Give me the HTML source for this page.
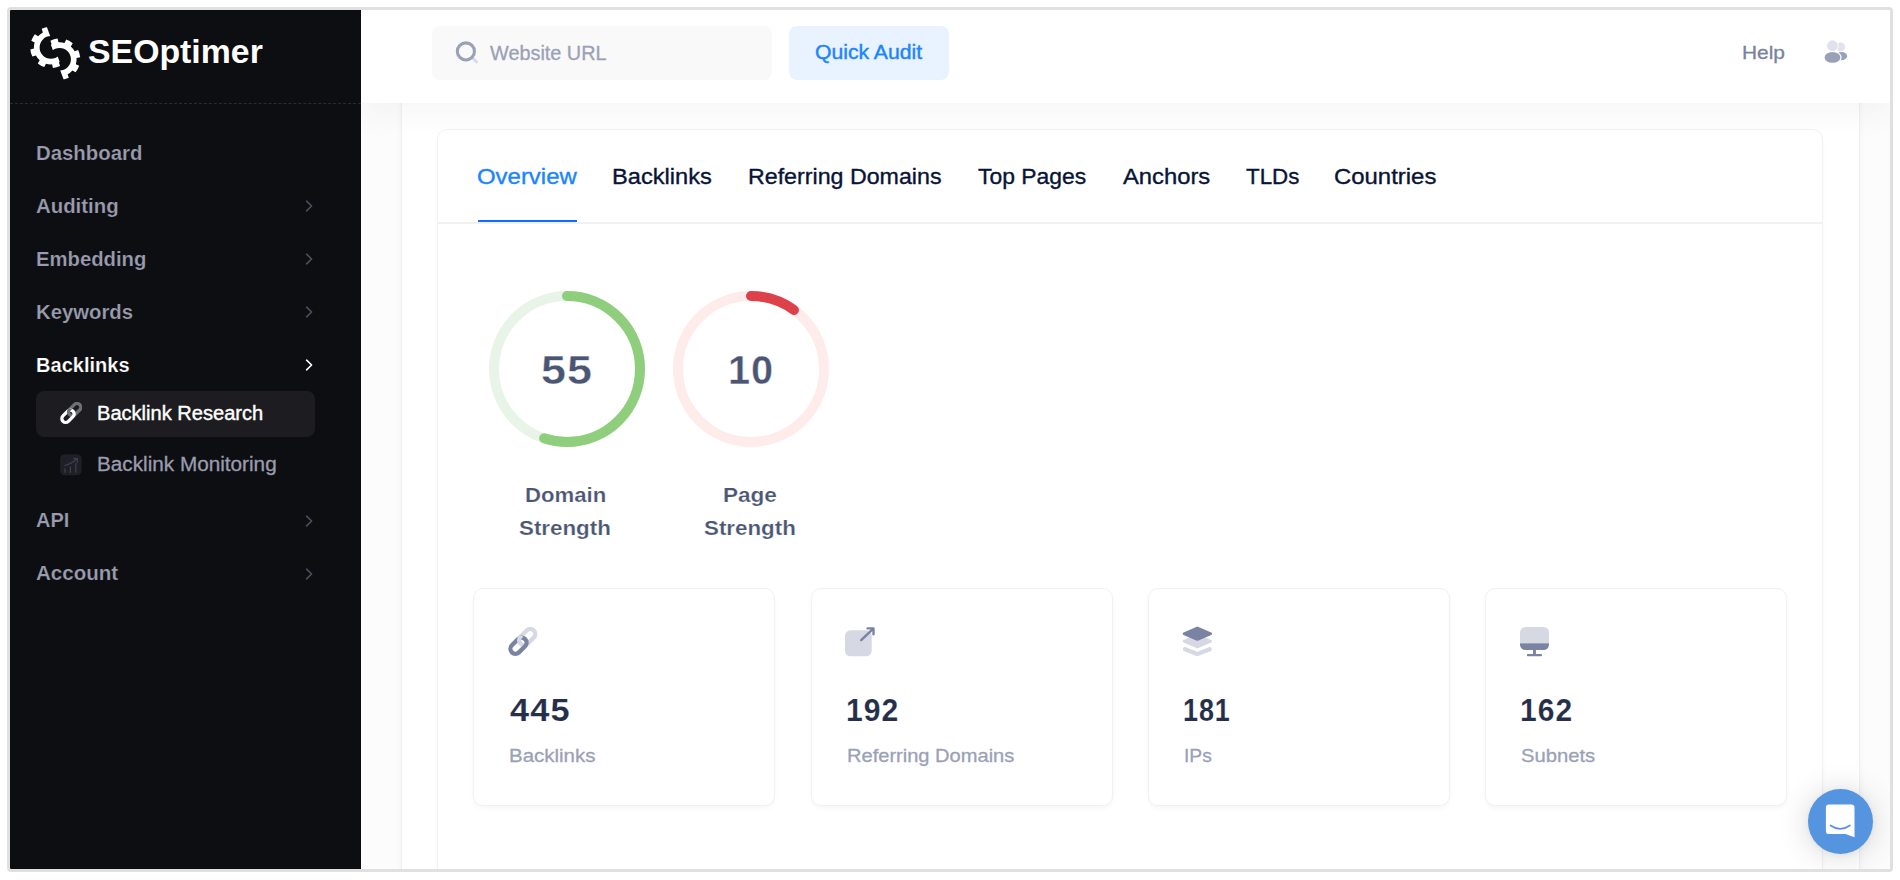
<!DOCTYPE html>
<html lang="en"><head><meta charset="utf-8"><title>SEOptimer - Backlink Research</title>
<style>
html,body{margin:0;padding:0;background:#fff;}
body{width:1900px;height:880px;overflow:hidden;position:relative;font-family:"Liberation Sans", sans-serif;}
.frame{position:absolute;left:7px;top:7px;width:1880px;height:859px;border:3px solid #e0e0e0;border-radius:4px;overflow:hidden;background:#fff;}
.page{position:absolute;left:-10px;top:-10px;width:1900px;height:880px;}
.page div,.page svg{position:absolute;}
.t{white-space:nowrap;}
</style></head><body>
<div class="frame"><div class="page">
<div style="left:361px;top:103px;width:1529px;height:767px;background:#fcfcfc;"></div>
<div style="left:401px;top:60px;width:1457px;height:830px;background:#fff;border-left:1px solid #f0f0f3;border-right:1px solid #f0f0f3;box-shadow:0 0 7px rgba(0,0,0,.035);"></div>
<div style="left:437px;top:129px;width:1384px;height:800px;background:#fff;border:1px solid #f1f1f4;border-radius:10px;box-shadow:0 3px 4px rgba(0,0,0,.03);"></div>
<div style="left:438px;top:222px;width:1384px;height:2px;background:#f1f1f4;"></div>
<div style="left:361px;top:10px;width:1529px;height:93px;background:#fff;box-shadow:0 10px 30px rgba(82,63,105,.05);"></div>
<div style="left:432px;top:26px;width:340px;height:54px;background:#f9f9f9;border-radius:8px;"></div>
<svg style="left:452px;top:38px;" width="30" height="30" viewBox="452 38 30 30"><line x1="472" y1="57.5" x2="476.5" y2="61.8" stroke="#d9dce6" stroke-width="3" stroke-linecap="round"/><circle cx="465.9" cy="51.4" r="8.55" fill="none" stroke="#99a1b7" stroke-width="3.1"/></svg>
<div class="t" style="left:489.61px;top:40px;font-size:20px;line-height:26px;color:#99a1b7;font-weight:400;transform:scaleX(0.9926);transform-origin:0 0;-webkit-text-stroke:0.3px #99a1b7;">Website URL</div>
<div style="left:789px;top:26px;width:160px;height:54px;background:#e9f3ff;border-radius:8px;"></div>
<div class="t" style="left:815.05px;top:39px;font-size:19.5px;line-height:26px;color:#1b84ff;font-weight:400;transform:scaleX(1.0858);transform-origin:0 0;-webkit-text-stroke:0.4px #1b84ff;">Quick Audit</div>
<div class="t" style="left:1742.06px;top:40px;font-size:19px;line-height:25px;color:#78829d;font-weight:400;transform:scaleX(1.0972);transform-origin:0 0;-webkit-text-stroke:0.3px #78829d;">Help</div>
<svg style="left:1820px;top:36px;" width="34" height="32" viewBox="1820 36 34 32"><circle cx="1840.7" cy="46.9" r="4.3" fill="#e0e3eb"/><ellipse cx="1841.4" cy="56.2" rx="5.7" ry="4.1" fill="#99a1b7"/><ellipse cx="1832.5" cy="57.4" rx="9.1" ry="6.5" fill="#fff"/><circle cx="1832.5" cy="45.7" r="6.2" fill="#fff"/><circle cx="1832.5" cy="45.7" r="5.4" fill="#dfe2ea"/><ellipse cx="1832.5" cy="57.4" rx="7.9" ry="5.4" fill="#99a1b7"/></svg>
<div style="left:10px;top:10px;width:351px;height:860px;background:#0d0e12;"></div>
<div style="left:10px;top:103px;width:351px;height:0;border-top:1px dashed #282b35;"></div>
<svg style="left:20px;top:15px;" width="80" height="75" viewBox="20 15 80 75"><defs><clipPath id="cl1"><polygon points="22.0,-40.84 88.34,140.06 -100,140 -100,-41"/></clipPath><clipPath id="cl2"><polygon points="22.14,-33.54 88.48,147.36 200,147 200,-34"/></clipPath></defs><g clip-path="url(#cl1)"><path fill="#fff" fill-rule="evenodd" d="M58.92 62.39 L60.09 65.95 A20.70 20.70 0 0 1 52.94 68.00 L52.04 64.36 A17.00 17.00 0 0 1 45.97 63.67 L44.28 67.01 A20.70 20.70 0 0 1 37.78 63.41 L39.71 60.20 A17.00 17.00 0 0 1 35.91 55.42 L32.35 56.59 A20.70 20.70 0 0 1 30.30 49.44 L33.94 48.54 A17.00 17.00 0 0 1 34.63 42.47 L31.29 40.78 A20.70 20.70 0 0 1 34.89 34.28 L38.10 36.21 A17.00 17.00 0 0 1 42.88 32.41 L41.71 28.85 A20.70 20.70 0 0 1 48.86 26.80 L49.76 30.44 A17.00 17.00 0 0 1 55.83 31.13 L57.52 27.79 A20.70 20.70 0 0 1 64.02 31.39 L62.09 34.60 A17.00 17.00 0 0 1 65.89 39.38 L69.45 38.21 A20.70 20.70 0 0 1 71.50 45.36 L67.86 46.26 A17.00 17.00 0 0 1 67.17 52.33 L70.51 54.02 A20.70 20.70 0 0 1 66.91 60.52 L63.70 58.59 A17.00 17.00 0 0 1 58.92 62.39 Z M62.20 47.40 A11.30 11.30 0 1 0 39.60 47.40 A11.30 11.30 0 1 0 62.20 47.40 Z"/></g><g clip-path="url(#cl2)"><path fill="#fff" fill-rule="evenodd" d="M67.62 74.19 L68.79 77.75 A20.70 20.70 0 0 1 61.64 79.80 L60.74 76.16 A17.00 17.00 0 0 1 54.67 75.47 L52.98 78.81 A20.70 20.70 0 0 1 46.48 75.21 L48.41 72.00 A17.00 17.00 0 0 1 44.61 67.22 L41.05 68.39 A20.70 20.70 0 0 1 39.00 61.24 L42.64 60.34 A17.00 17.00 0 0 1 43.33 54.27 L39.99 52.58 A20.70 20.70 0 0 1 43.59 46.08 L46.80 48.01 A17.00 17.00 0 0 1 51.58 44.21 L50.41 40.65 A20.70 20.70 0 0 1 57.56 38.60 L58.46 42.24 A17.00 17.00 0 0 1 64.53 42.93 L66.22 39.59 A20.70 20.70 0 0 1 72.72 43.19 L70.79 46.40 A17.00 17.00 0 0 1 74.59 51.18 L78.15 50.01 A20.70 20.70 0 0 1 80.20 57.16 L76.56 58.06 A17.00 17.00 0 0 1 75.87 64.13 L79.21 65.82 A20.70 20.70 0 0 1 75.61 72.32 L72.40 70.39 A17.00 17.00 0 0 1 67.62 74.19 Z M70.90 59.20 A11.30 11.30 0 1 0 48.30 59.20 A11.30 11.30 0 1 0 70.90 59.20 Z"/></g></svg>
<div class="t" style="left:88.38px;top:31px;font-size:33.7px;line-height:41px;color:#fff;font-weight:700;transform:scaleX(1.0042);transform-origin:0 0;">SEOptimer</div>
<div class="t" style="left:36.18px;top:140px;font-size:20px;line-height:26px;color:#9a9cae;font-weight:700;transform:scaleX(1.0178);transform-origin:0 0;-webkit-text-stroke:0.2px #0d0e12;">Dashboard</div>
<div class="t" style="left:36.18px;top:193px;font-size:20px;line-height:26px;color:#9a9cae;font-weight:700;transform:scaleX(1.0190);transform-origin:0 0;-webkit-text-stroke:0.2px #0d0e12;">Auditing</div>
<svg style="left:301.1px;top:198.3px;" width="16" height="16" viewBox="0 0 16 16"><path d="M5.6 3.2 L10.6 8 L5.6 12.8" fill="none" stroke="#4e5060" stroke-width="1.6" stroke-linecap="round" stroke-linejoin="round"/></svg>
<div class="t" style="left:36.19px;top:246px;font-size:20px;line-height:26px;color:#9a9cae;font-weight:700;transform:scaleX(1.0132);transform-origin:0 0;-webkit-text-stroke:0.2px #0d0e12;">Embedding</div>
<svg style="left:301.1px;top:251.2px;" width="16" height="16" viewBox="0 0 16 16"><path d="M5.6 3.2 L10.6 8 L5.6 12.8" fill="none" stroke="#4e5060" stroke-width="1.6" stroke-linecap="round" stroke-linejoin="round"/></svg>
<div class="t" style="left:36.19px;top:299px;font-size:20px;line-height:26px;color:#9a9cae;font-weight:700;transform:scaleX(1.0150);transform-origin:0 0;-webkit-text-stroke:0.2px #0d0e12;">Keywords</div>
<svg style="left:301.1px;top:304.0px;" width="16" height="16" viewBox="0 0 16 16"><path d="M5.6 3.2 L10.6 8 L5.6 12.8" fill="none" stroke="#4e5060" stroke-width="1.6" stroke-linecap="round" stroke-linejoin="round"/></svg>
<div class="t" style="left:36.20px;top:352px;font-size:20px;line-height:26px;color:#fff;font-weight:700;transform:scaleX(1.0023);transform-origin:0 0;-webkit-text-stroke:0.2px #0d0e12;">Backlinks</div>
<svg style="left:301.1px;top:356.90000000000003px;" width="16" height="16" viewBox="0 0 16 16"><path d="M5.6 3.2 L10.6 8 L5.6 12.8" fill="none" stroke="#fff" stroke-width="1.6" stroke-linecap="round" stroke-linejoin="round"/></svg>
<div class="t" style="left:36.20px;top:507px;font-size:20px;line-height:26px;color:#9a9cae;font-weight:700;transform:scaleX(0.9986);transform-origin:0 0;-webkit-text-stroke:0.2px #0d0e12;">API</div>
<svg style="left:301.1px;top:512.6999999999999px;" width="16" height="16" viewBox="0 0 16 16"><path d="M5.6 3.2 L10.6 8 L5.6 12.8" fill="none" stroke="#4e5060" stroke-width="1.6" stroke-linecap="round" stroke-linejoin="round"/></svg>
<div class="t" style="left:36.18px;top:560px;font-size:20px;line-height:26px;color:#9a9cae;font-weight:700;transform:scaleX(1.0269);transform-origin:0 0;-webkit-text-stroke:0.2px #0d0e12;">Account</div>
<svg style="left:301.1px;top:565.5999999999999px;" width="16" height="16" viewBox="0 0 16 16"><path d="M5.6 3.2 L10.6 8 L5.6 12.8" fill="none" stroke="#4e5060" stroke-width="1.6" stroke-linecap="round" stroke-linejoin="round"/></svg>
<div style="left:36px;top:391px;width:279px;height:46px;background:#1c1c21;border-radius:8px;"></div>
<div class="t" style="left:96.70px;top:400px;font-size:20px;line-height:26px;color:#fff;font-weight:400;transform:scaleX(1.0035);transform-origin:0 0;-webkit-text-stroke:0.4px #fff;">Backlink Research</div>
<div class="t" style="left:96.67px;top:451px;font-size:20px;line-height:26px;color:#9a9cae;font-weight:400;transform:scaleX(1.0360);transform-origin:0 0;-webkit-text-stroke:0.3px #9a9cae;">Backlink Monitoring</div>
<div class="t" style="left:477.12px;top:162px;font-size:22px;line-height:29px;color:#1b84ff;font-weight:400;transform:scaleX(1.0880);transform-origin:0 0;-webkit-text-stroke:0.35px #1b84ff;">Overview</div>
<div class="t" style="left:612.14px;top:162px;font-size:22px;line-height:29px;color:#071437;font-weight:400;transform:scaleX(1.0743);transform-origin:0 0;-webkit-text-stroke:0.35px #071437;">Backlinks</div>
<div class="t" style="left:747.86px;top:162px;font-size:22px;line-height:29px;color:#071437;font-weight:400;transform:scaleX(1.0550);transform-origin:0 0;-webkit-text-stroke:0.35px #071437;">Referring Domains</div>
<div class="t" style="left:978.27px;top:162px;font-size:22px;line-height:29px;color:#071437;font-weight:400;transform:scaleX(1.0403);transform-origin:0 0;-webkit-text-stroke:0.35px #071437;">Top Pages</div>
<div class="t" style="left:1122.53px;top:162px;font-size:22px;line-height:29px;color:#071437;font-weight:400;transform:scaleX(1.0808);transform-origin:0 0;-webkit-text-stroke:0.35px #071437;">Anchors</div>
<div class="t" style="left:1246.30px;top:162px;font-size:22px;line-height:29px;color:#071437;font-weight:400;transform:scaleX(1.0142);transform-origin:0 0;-webkit-text-stroke:0.35px #071437;">TLDs</div>
<div class="t" style="left:1334.32px;top:162px;font-size:22px;line-height:29px;color:#071437;font-weight:400;transform:scaleX(1.0870);transform-origin:0 0;-webkit-text-stroke:0.35px #071437;">Countries</div>
<div style="left:478px;top:220px;width:99px;height:2px;background:#0d6efd;"></div>
<svg style="left:482.20000000000005px;top:284px;" width="170" height="170" viewBox="-85 -85 170 170"><circle r="73" fill="none" stroke="#e9f4e8" stroke-width="10"/><circle r="73" fill="none" stroke="#8fce7c" stroke-width="10" stroke-linecap="round" stroke-dasharray="252.27 458.67" transform="rotate(-90)"/></svg>
<svg style="left:666.1px;top:284px;" width="170" height="170" viewBox="-85 -85 170 170"><circle r="73" fill="none" stroke="#fdecea" stroke-width="10"/><circle r="73" fill="none" stroke="#dd4149" stroke-width="10" stroke-linecap="round" stroke-dasharray="45.87 458.67" transform="rotate(-90)"/></svg>
<div class="t" style="left:541.38px;top:345px;font-size:40.5px;line-height:50px;color:#4b5675;font-weight:700;letter-spacing:1.0px;transform:scaleX(1.1080);transform-origin:0 0;-webkit-text-stroke:0.4px #fff;">55</div>
<div class="t" style="left:727.61px;top:345px;font-size:40.5px;line-height:50px;color:#4b5675;font-weight:700;letter-spacing:1.0px;transform:scaleX(0.9807);transform-origin:0 0;-webkit-text-stroke:0.4px #fff;">10</div>
<div class="t" style="left:525.10px;top:481px;font-size:21px;line-height:27px;color:#4b5675;font-weight:700;transform:scaleX(1.0542);transform-origin:0 0;-webkit-text-stroke:0.2px #fff;">Domain</div>
<div class="t" style="left:519.49px;top:514px;font-size:21px;line-height:27px;color:#4b5675;font-weight:700;transform:scaleX(1.0635);transform-origin:0 0;-webkit-text-stroke:0.2px #fff;">Strength</div>
<div class="t" style="left:722.98px;top:481px;font-size:21px;line-height:27px;color:#4b5675;font-weight:700;transform:scaleX(1.0742);transform-origin:0 0;-webkit-text-stroke:0.2px #fff;">Page</div>
<div class="t" style="left:703.59px;top:514px;font-size:21px;line-height:27px;color:#4b5675;font-weight:700;transform:scaleX(1.0635);transform-origin:0 0;-webkit-text-stroke:0.2px #fff;">Strength</div>
<div style="left:473px;top:588px;width:302px;height:218px;box-sizing:border-box;background:#fff;border:1px solid #f1f1f4;border-radius:10px;box-shadow:0 3px 4px rgba(0,0,0,.03);"></div>
<div class="t" style="left:510.05px;top:690px;font-size:31.5px;line-height:40px;color:#252f4a;font-weight:700;letter-spacing:1.1px;transform:scaleX(1.0900);transform-origin:0 0;-webkit-text-stroke:0.12px #fff;">445</div>
<div class="t" style="left:509.48px;top:743px;font-size:19px;line-height:25px;color:#99a1b7;font-weight:400;transform:scaleX(1.0772);transform-origin:0 0;-webkit-text-stroke:0.3px #99a1b7;">Backlinks</div>
<div style="left:811px;top:588px;width:302px;height:218px;box-sizing:border-box;background:#fff;border:1px solid #f1f1f4;border-radius:10px;box-shadow:0 3px 4px rgba(0,0,0,.03);"></div>
<div class="t" style="left:846.25px;top:690px;font-size:31.5px;line-height:40px;color:#252f4a;font-weight:700;letter-spacing:1.1px;transform:scaleX(0.9552);transform-origin:0 0;-webkit-text-stroke:0.12px #fff;">192</div>
<div class="t" style="left:846.70px;top:743px;font-size:19px;line-height:25px;color:#99a1b7;font-weight:400;transform:scaleX(1.0562);transform-origin:0 0;-webkit-text-stroke:0.3px #99a1b7;">Referring Domains</div>
<div style="left:1148px;top:588px;width:302px;height:218px;box-sizing:border-box;background:#fff;border:1px solid #f1f1f4;border-radius:10px;box-shadow:0 3px 4px rgba(0,0,0,.03);"></div>
<div class="t" style="left:1183.29px;top:690px;font-size:31.5px;line-height:40px;color:#252f4a;font-weight:700;letter-spacing:1.1px;transform:scaleX(0.8550);transform-origin:0 0;-webkit-text-stroke:0.12px #fff;">181</div>
<div class="t" style="left:1184.14px;top:743px;font-size:19px;line-height:25px;color:#99a1b7;font-weight:400;transform:scaleX(1.0100);transform-origin:0 0;-webkit-text-stroke:0.3px #99a1b7;">IPs</div>
<div style="left:1485px;top:588px;width:302px;height:218px;box-sizing:border-box;background:#fff;border:1px solid #f1f1f4;border-radius:10px;box-shadow:0 3px 4px rgba(0,0,0,.03);"></div>
<div class="t" style="left:1519.85px;top:690px;font-size:31.5px;line-height:40px;color:#252f4a;font-weight:700;letter-spacing:1.1px;transform:scaleX(0.9513);transform-origin:0 0;-webkit-text-stroke:0.12px #fff;">162</div>
<div class="t" style="left:1521.09px;top:743px;font-size:19px;line-height:25px;color:#99a1b7;font-weight:400;transform:scaleX(1.0643);transform-origin:0 0;-webkit-text-stroke:0.3px #99a1b7;">Subnets</div>
<div style="left:1808px;top:789px;width:65px;height:65px;border-radius:50%;background:#5595df;box-shadow:0 1px 6px rgba(0,0,0,.06),0 2px 32px rgba(0,0,0,.16);"></div>
<svg style="left:1820px;top:798px;" width="42" height="44" viewBox="1820 798 42 44"><path d="M1829.1 804.5 H1851.3 a3.2 3.2 0 0 1 3.2 3.2 V837.3 L1845.5 834.1 H1829.1 a3.2 3.2 0 0 1 -3.2 -3.2 V807.7 a3.2 3.2 0 0 1 3.2 -3.2 z" fill="#fff"/><path d="M1830.6 825.4 q9.600 6.800 19.200 0" fill="none" stroke="#5595df" stroke-width="1.8" stroke-linecap="round"/></svg>
<svg style="left:507.90px;top:626.80px;" width="30.00" height="29.50" viewBox="0 0 30 29.5"><defs><clipPath id="lk1"><circle cx="12.2" cy="12.6" r="4.2"/></clipPath></defs><rect x="-9.35" y="-5" width="18.70" height="10" rx="5" fill="none" stroke="#d6d9e4" stroke-width="4.3" transform="translate(19.20 10.05) rotate(-45)"/><rect x="-9.35" y="-5" width="18.70" height="10" rx="5" fill="none" stroke="#7a84a2" stroke-width="4.3" transform="translate(10.50 18.75) rotate(-45)"/><g clip-path="url(#lk1)"><rect x="-9.35" y="-5" width="18.70" height="10" rx="5" fill="none" stroke="#d6d9e4" stroke-width="4.3" transform="translate(19.20 10.05) rotate(-45)"/></g></svg>
<svg style="left:59.50px;top:402.30px;" width="22.89" height="22.51" viewBox="0 0 30 29.5"><defs><clipPath id="lk2"><circle cx="12.2" cy="12.6" r="4.2"/></clipPath></defs><rect x="-9.35" y="-5" width="18.70" height="10" rx="5" fill="none" stroke="#6f7078" stroke-width="4.3" transform="translate(19.20 10.05) rotate(-45)"/><rect x="-9.35" y="-5" width="18.70" height="10" rx="5" fill="none" stroke="#ffffff" stroke-width="4.3" transform="translate(10.50 18.75) rotate(-45)"/><g clip-path="url(#lk2)"><rect x="-9.35" y="-5" width="18.70" height="10" rx="5" fill="none" stroke="#6f7078" stroke-width="4.3" transform="translate(19.20 10.05) rotate(-45)"/></g></svg>
<svg style="left:843px;top:624px;" width="36" height="36" viewBox="843 624 36 36"><rect x="845" y="630.3" width="26.7" height="26" rx="5.5" fill="#d6d9e4"/><path d="M861.2 640.1 L873.3 628.6 M867.6 628.4 H873.5 V634.2" fill="none" stroke="#7a84a2" stroke-width="2.4" stroke-linecap="round" stroke-linejoin="round"/></svg>
<svg style="left:1180px;top:624px;" width="36" height="36" viewBox="1180 624 36 36"><path d="M1185 649.2 L1197.3 654.0 L1209.7 649.2" fill="none" stroke="#d6d9e4" stroke-width="4.3" stroke-linecap="round" stroke-linejoin="round"/><path d="M1184.10 641.30 L1197.40 635.57 L1210.70 641.30 L1197.40 647.03 Z" fill="#d6d9e4" stroke="#d6d9e4" stroke-width="2.8" stroke-linejoin="round"/><path d="M1184.10 633.70 L1197.40 628.02 L1210.70 633.70 L1197.40 639.38 Z" fill="#7a84a2" stroke="#7a84a2" stroke-width="2.8" stroke-linejoin="round"/></svg>
<svg style="left:1516px;top:624px;" width="38" height="36" viewBox="1516 624 38 36"><defs><clipPath id="mon"><rect x="1520" y="627" width="29" height="23" rx="5.5"/></clipPath></defs><g clip-path="url(#mon)"><rect x="1520" y="627" width="29" height="16.3" fill="#d6d9e4"/><rect x="1520" y="643.3" width="29" height="7" fill="#7a84a2"/></g><rect x="1533" y="649.5" width="2.900" height="5.5" fill="#7a84a2"/><rect x="1526.8" y="654" width="15.3" height="2.300" rx="1.15" fill="#7a84a2"/></svg>
<svg style="left:58px;top:452px;" width="26" height="26" viewBox="58 452 26 26"><rect x="60.2" y="454.2" width="21.4" height="21" rx="4.5" fill="#1f2027"/><path d="M65 472.3 V469 M70.4 472.3 V467 M75.800 472.3 V463.5" stroke="#3d3f4b" stroke-width="1.3" stroke-linecap="round" fill="none"/><path d="M64.5 465.5 Q71 464.3 77 458.8 M73.6 458.6 H77.3 V462.3" stroke="#3d3f4b" stroke-width="1.2" stroke-linecap="round" stroke-linejoin="round" fill="none"/></svg>
</div></div>
</body></html>
